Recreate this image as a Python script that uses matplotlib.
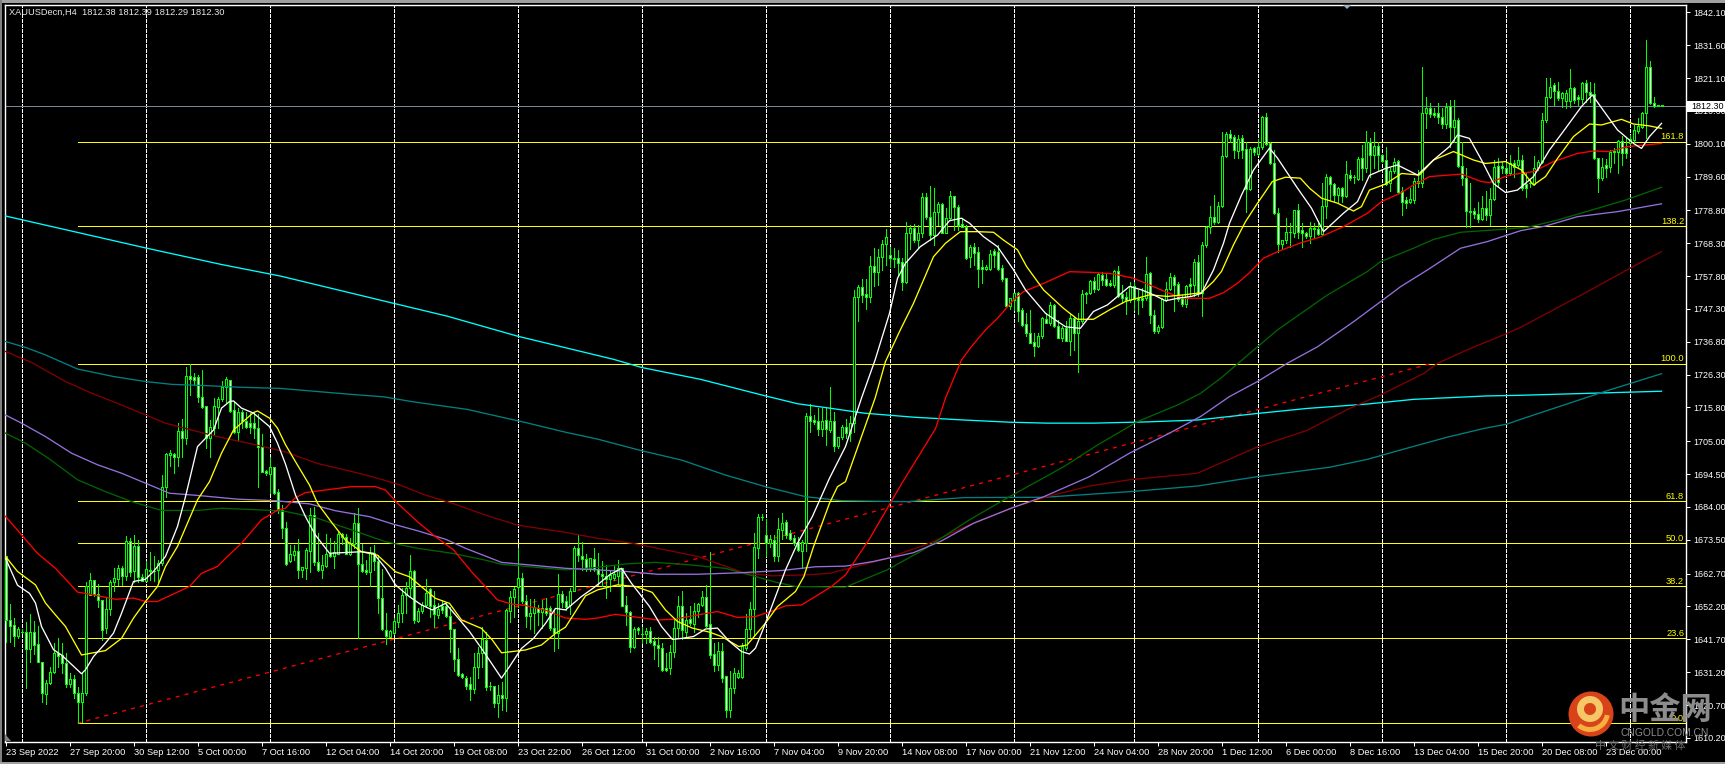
import matplotlib
matplotlib.use('Agg')
import matplotlib.pyplot as plt
from matplotlib.patches import Circle, Polygon, Rectangle, Wedge

# bars 0-414, H4 candles
opens = [
    1668.2, 1647.9, 1646.2, 1642.9, 1644.2, 1644.0, 1638.6, 1644.0, 1640.2, 1634.4,
    1624.2, 1627.7, 1631.2, 1637.3, 1636.7, 1634.0, 1627.4, 1629.0, 1624.5, 1621.8,
    1624.5, 1655.9, 1660.7, 1656.1, 1654.3, 1645.3, 1651.3, 1659.9, 1660.9, 1664.4,
    1662.0, 1673.0, 1663.4, 1671.6, 1661.6, 1660.5, 1664.0, 1663.6, 1663.9, 1666.2,
    1690.3, 1700.7, 1700.9, 1699.9, 1708.3, 1706.0, 1725.9, 1725.4, 1725.7, 1719.3,
    1716.3, 1706.2, 1709.2, 1716.1, 1718.4, 1722.3, 1724.6, 1715.0, 1708.1, 1714.5,
    1711.6, 1710.8, 1710.8, 1709.2, 1703.1, 1695.5, 1694.5, 1696.7, 1688.7, 1682.9,
    1677.2, 1666.8, 1668.7, 1670.0, 1664.0, 1664.6, 1670.0, 1681.6, 1666.3, 1663.9,
    1665.1, 1669.2, 1668.4, 1669.0, 1675.4, 1674.5, 1669.0, 1672.2, 1678.8, 1665.7,
    1663.9, 1663.1, 1669.2, 1666.8, 1654.8, 1644.7, 1642.6, 1643.6, 1647.4, 1650.0,
    1655.9, 1658.0, 1663.5, 1647.7, 1650.7, 1652.7, 1657.7, 1652.7, 1649.5, 1652.5,
    1652.5, 1649.3, 1644.9, 1635.3, 1630.5, 1629.3, 1627.3, 1625.8, 1633.0, 1637.2,
    1641.5, 1626.9, 1626.9, 1621.5, 1623.9, 1623.1, 1650.9, 1655.1, 1658.5, 1661.2,
    1654.0, 1649.3, 1650.0, 1651.8, 1650.3, 1651.8, 1651.6, 1645.2, 1643.6, 1656.2,
    1653.8, 1652.7, 1657.2, 1670.8, 1668.2, 1667.3, 1664.6, 1667.3, 1664.2, 1662.6,
    1661.8, 1661.0, 1661.2, 1661.8, 1664.6, 1652.7, 1650.3, 1639.4, 1645.2, 1643.5,
    1643.4, 1644.4, 1641.2, 1639.8, 1638.9, 1632.5, 1632.5, 1637.6, 1645.3, 1652.5,
    1644.2, 1648.2, 1646.6, 1650.6, 1652.7, 1655.2, 1646.5, 1637.0, 1633.5, 1638.0,
    1630.0, 1619.2, 1626.1, 1629.8, 1629.8, 1638.9, 1644.9, 1651.3, 1671.0, 1680.9,
    1675.1, 1672.4, 1673.3, 1668.2, 1676.7, 1679.1, 1675.6, 1674.0, 1672.9, 1670.0,
    1672.4, 1713.1, 1711.8, 1711.5, 1708.9, 1711.8, 1708.6, 1711.6, 1703.5, 1706.3,
    1709.5, 1707.8, 1711.0, 1751.0, 1754.2, 1752.1, 1751.2, 1761.0, 1759.2, 1763.8,
    1768.0, 1764.4, 1763.7, 1763.5, 1762.2, 1756.0, 1771.5, 1773.1, 1769.3, 1771.5,
    1783.0, 1776.8, 1770.9, 1778.4, 1780.7, 1771.7, 1776.5, 1783.4, 1779.8, 1774.4,
    1773.6, 1764.0, 1767.0, 1765.6, 1760.6, 1760.0, 1760.0, 1765.8, 1765.6, 1760.3,
    1757.1, 1748.3, 1750.2, 1752.3, 1747.0, 1742.5, 1739.7, 1736.6, 1735.3, 1738.5,
    1744.0, 1742.9, 1748.6, 1741.9, 1738.1, 1741.3, 1737.2, 1744.3, 1739.5, 1743.6,
    1752.2, 1752.3, 1756.2, 1753.6, 1758.2, 1756.8, 1755.7, 1755.0, 1759.4, 1752.0,
    1751.2, 1750.2, 1754.6, 1750.7, 1750.7, 1750.7, 1758.7, 1745.4, 1740.1, 1741.5,
    1750.2, 1753.7, 1757.4, 1755.3, 1750.4, 1748.8, 1755.2, 1755.0, 1762.2, 1752.3,
    1767.8, 1773.4, 1776.6, 1775.0, 1780.3, 1796.3, 1803.2, 1802.4, 1797.9, 1801.9,
    1798.3, 1785.7, 1798.7, 1796.8, 1799.0, 1808.6, 1800.3, 1793.9, 1777.9, 1768.0,
    1769.2, 1771.8, 1771.5, 1778.9, 1772.6, 1771.5, 1770.6, 1773.1, 1772.8, 1771.3,
    1780.3, 1789.6, 1787.2, 1783.7, 1785.9, 1783.4, 1790.0, 1789.6, 1788.9, 1795.5,
    1792.5, 1800.8, 1796.5, 1799.5, 1796.5, 1794.9, 1787.4, 1791.4, 1794.6, 1785.1,
    1782.1, 1781.6, 1782.1, 1788.2, 1787.4, 1809.8, 1811.6, 1809.8, 1809.8, 1808.8,
    1806.4, 1812.2, 1805.3, 1807.7, 1793.0, 1789.0, 1778.7, 1778.7, 1777.8, 1775.9,
    1779.5, 1777.3, 1782.3, 1793.1, 1793.1, 1792.5, 1790.6, 1793.8, 1793.3, 1794.9,
    1787.2, 1787.4, 1787.1, 1792.2, 1794.2, 1807.7, 1815.1, 1818.9, 1817.1, 1814.6,
    1813.6, 1813.6, 1817.8, 1814.9, 1814.5, 1819.4, 1816.7, 1815.9, 1795.4, 1789.0,
    1793.3, 1792.6, 1797.9, 1797.4, 1801.0, 1798.6, 1800.2, 1801.3, 1804.2, 1805.6,
    1809.8, 1824.7, 1813.0, 1812.4, 1812.38,
]
highs = [
    1668.2, 1653.0, 1648.4, 1645.8, 1644.9, 1647.4, 1649.7, 1647.6, 1646.0, 1634.4,
    1628.7, 1633.0, 1640.5, 1642.0, 1640.5, 1637.3, 1630.9, 1630.3, 1626.6, 1631.4,
    1659.9, 1662.8, 1660.7, 1659.3, 1654.3, 1654.9, 1660.7, 1664.6, 1665.5, 1665.2,
    1674.6, 1674.0, 1675.0, 1673.5, 1662.5, 1666.6, 1669.6, 1668.2, 1667.0, 1694.3,
    1701.4, 1702.3, 1701.4, 1710.7, 1712.2, 1728.9, 1729.7, 1726.7, 1726.2, 1727.8,
    1716.3, 1711.8, 1718.8, 1719.0, 1724.4, 1725.7, 1724.6, 1717.7, 1715.6, 1715.0,
    1714.5, 1714.0, 1714.5, 1713.7, 1707.4, 1695.8, 1700.1, 1696.7, 1689.8, 1684.7,
    1679.3, 1671.9, 1671.9, 1673.8, 1664.9, 1670.8, 1683.6, 1684.1, 1675.6, 1668.7,
    1675.4, 1674.0, 1673.1, 1676.4, 1675.6, 1675.3, 1674.0, 1682.2, 1683.6, 1672.2,
    1667.0, 1671.3, 1671.9, 1668.7, 1664.2, 1650.0, 1644.8, 1648.4, 1652.7, 1658.0,
    1660.1, 1668.7, 1663.9, 1651.6, 1653.7, 1660.9, 1658.0, 1657.0, 1653.2, 1654.3,
    1653.7, 1652.1, 1644.9, 1638.8, 1630.9, 1630.0, 1629.8, 1637.2, 1639.4, 1645.8,
    1644.2, 1628.2, 1626.9, 1627.1, 1628.2, 1651.3, 1657.3, 1658.5, 1670.8, 1663.0,
    1655.9, 1654.5, 1654.5, 1652.7, 1654.3, 1654.8, 1652.3, 1651.0, 1662.6, 1657.3,
    1655.4, 1658.0, 1671.4, 1675.1, 1672.7, 1669.0, 1667.6, 1670.8, 1669.2, 1666.6,
    1665.5, 1663.4, 1665.5, 1667.0, 1664.6, 1655.4, 1650.6, 1645.8, 1645.8, 1645.8,
    1645.3, 1645.6, 1642.6, 1642.6, 1640.5, 1637.3, 1639.9, 1648.5, 1655.4, 1657.2,
    1650.0, 1652.2, 1653.2, 1653.2, 1657.3, 1659.1, 1669.5, 1640.5, 1641.0, 1640.5,
    1630.0, 1631.7, 1632.5, 1632.0, 1640.5, 1649.7, 1653.5, 1675.6, 1681.7, 1681.7,
    1680.2, 1675.1, 1675.1, 1680.4, 1682.0, 1679.9, 1676.5, 1675.1, 1674.5, 1673.5,
    1714.2, 1716.9, 1713.4, 1715.5, 1715.5, 1715.9, 1722.3, 1714.3, 1706.5, 1710.2,
    1712.0, 1713.0, 1753.4, 1755.0, 1756.8, 1757.0, 1764.2, 1766.7, 1766.4, 1769.3,
    1772.9, 1767.2, 1766.7, 1766.2, 1763.5, 1775.2, 1774.1, 1774.5, 1774.1, 1784.3,
    1784.3, 1786.6, 1785.8, 1781.6, 1781.3, 1779.5, 1785.1, 1783.4, 1780.5, 1776.3,
    1774.1, 1767.7, 1768.3, 1767.2, 1763.0, 1761.4, 1766.2, 1766.4, 1767.7, 1761.4,
    1757.1, 1750.9, 1752.5, 1752.8, 1747.7, 1745.9, 1747.0, 1739.7, 1739.7, 1744.8,
    1745.9, 1749.6, 1748.9, 1743.8, 1741.7, 1743.3, 1745.9, 1744.8, 1745.9, 1753.2,
    1752.8, 1756.6, 1757.6, 1758.9, 1759.2, 1758.7, 1756.6, 1759.8, 1761.0, 1755.0,
    1752.8, 1756.0, 1756.0, 1753.4, 1753.9, 1763.8, 1759.2, 1747.0, 1742.2, 1750.7,
    1756.0, 1758.9, 1758.2, 1756.0, 1751.8, 1755.0, 1757.1, 1763.2, 1764.6, 1768.8,
    1773.8, 1780.2, 1783.7, 1781.6, 1804.0, 1803.7, 1804.5, 1802.9, 1802.9, 1802.9,
    1800.8, 1799.2, 1799.2, 1801.5, 1809.1, 1809.8, 1800.8, 1798.1, 1779.5, 1769.4,
    1776.3, 1774.9, 1778.9, 1780.9, 1774.9, 1772.0, 1775.2, 1774.7, 1774.7, 1787.7,
    1790.5, 1789.8, 1787.5, 1786.2, 1786.4, 1794.7, 1791.7, 1790.1, 1795.8, 1799.7,
    1804.3, 1801.9, 1803.9, 1800.8, 1796.8, 1799.2, 1792.2, 1795.4, 1794.9, 1786.4,
    1783.2, 1785.9, 1789.0, 1791.7, 1824.7, 1815.1, 1813.0, 1811.4, 1813.0, 1811.4,
    1813.0, 1814.0, 1814.0, 1808.2, 1800.8, 1792.2, 1787.4, 1779.5, 1781.6, 1783.4,
    1785.0, 1785.9, 1794.9, 1795.4, 1794.4, 1793.8, 1796.5, 1794.9, 1799.2, 1796.5,
    1791.2, 1788.5, 1796.3, 1794.9, 1809.8, 1821.0, 1821.0, 1819.4, 1819.9, 1816.7,
    1817.3, 1824.0, 1818.3, 1815.7, 1819.9, 1820.4, 1819.7, 1819.4, 1795.6, 1795.4,
    1795.1, 1798.1, 1798.6, 1801.3, 1802.6, 1801.8, 1802.9, 1806.1, 1808.2, 1810.3,
    1833.3, 1826.5, 1814.9, 1812.5, 1812.39,
]
lows = [
    1641.0, 1641.0, 1639.6, 1642.0, 1643.7, 1626.3, 1634.6, 1637.0, 1634.3, 1621.8,
    1621.0, 1627.4, 1630.9, 1633.0, 1630.9, 1626.6, 1626.6, 1623.0, 1614.9, 1615.4,
    1623.9, 1655.9, 1655.6, 1651.9, 1641.6, 1643.7, 1649.5, 1657.0, 1659.1, 1659.1,
    1660.7, 1661.8, 1660.0, 1659.9, 1660.2, 1660.2, 1660.7, 1660.5, 1659.4, 1665.5,
    1687.1, 1697.1, 1695.0, 1697.1, 1700.1, 1704.0, 1719.8, 1723.0, 1717.7, 1715.6,
    1702.8, 1700.1, 1707.0, 1709.2, 1717.9, 1717.7, 1714.5, 1707.6, 1705.4, 1709.2,
    1709.2, 1707.6, 1706.2, 1690.5, 1695.3, 1694.3, 1688.4, 1688.2, 1682.0, 1674.0,
    1665.5, 1666.5, 1667.0, 1661.2, 1661.5, 1660.9, 1663.3, 1665.5, 1663.5, 1661.2,
    1664.9, 1668.1, 1664.6, 1668.9, 1672.2, 1668.9, 1668.7, 1670.8, 1642.0, 1663.3,
    1662.6, 1658.8, 1663.9, 1650.0, 1644.7, 1640.1, 1642.6, 1643.4, 1645.8, 1647.4,
    1650.0, 1655.3, 1647.0, 1647.4, 1650.0, 1652.1, 1649.0, 1645.8, 1648.4, 1650.0,
    1649.0, 1637.5, 1631.7, 1630.0, 1629.3, 1625.7, 1622.3, 1624.5, 1629.3, 1633.0,
    1625.5, 1625.5, 1620.2, 1617.0, 1619.1, 1618.9, 1647.4, 1649.0, 1652.1, 1653.2,
    1645.8, 1644.9, 1643.8, 1646.3, 1645.2, 1649.5, 1644.7, 1638.1, 1638.8, 1652.1,
    1651.1, 1649.7, 1657.0, 1666.6, 1663.9, 1663.4, 1663.4, 1663.4, 1659.1, 1658.6,
    1654.8, 1657.0, 1660.7, 1659.4, 1652.4, 1646.3, 1637.8, 1638.9, 1643.4, 1640.5,
    1640.5, 1640.5, 1635.3, 1633.2, 1631.6, 1631.6, 1630.7, 1636.2, 1642.6, 1641.7,
    1642.6, 1646.3, 1644.2, 1649.0, 1652.2, 1645.8, 1635.7, 1631.7, 1632.0, 1628.2,
    1616.8, 1617.0, 1624.7, 1629.3, 1629.3, 1638.3, 1642.6, 1643.1, 1667.6, 1679.9,
    1668.4, 1671.3, 1666.8, 1666.8, 1673.7, 1674.0, 1673.5, 1671.7, 1669.8, 1664.4,
    1669.8, 1708.1, 1710.4, 1707.0, 1706.7, 1703.8, 1708.1, 1702.0, 1703.0, 1705.6,
    1706.0, 1705.0, 1708.0, 1743.6, 1749.6, 1747.2, 1749.6, 1754.6, 1755.0, 1759.8,
    1761.4, 1760.8, 1760.8, 1757.8, 1753.2, 1755.7, 1766.4, 1768.8, 1766.7, 1770.2,
    1776.0, 1769.3, 1767.7, 1774.1, 1771.5, 1771.7, 1776.0, 1772.5, 1772.5, 1773.4,
    1763.2, 1760.8, 1761.4, 1754.4, 1755.5, 1759.8, 1759.8, 1760.8, 1759.8, 1756.3,
    1748.0, 1747.2, 1747.0, 1743.6, 1741.7, 1738.5, 1736.3, 1732.4, 1735.1, 1737.9,
    1742.7, 1742.2, 1741.4, 1737.9, 1736.9, 1736.9, 1732.6, 1734.2, 1727.0, 1742.7,
    1749.1, 1752.0, 1752.8, 1753.4, 1755.0, 1754.6, 1754.6, 1754.4, 1751.2, 1749.3,
    1745.6, 1749.6, 1747.0, 1745.7, 1748.0, 1750.2, 1742.9, 1739.6, 1739.6, 1741.1,
    1749.7, 1753.4, 1746.8, 1749.7, 1748.1, 1747.9, 1751.3, 1751.3, 1751.3, 1744.9,
    1767.2, 1771.7, 1774.5, 1774.7, 1780.0, 1796.0, 1800.8, 1795.5, 1795.5, 1795.5,
    1778.4, 1785.3, 1796.5, 1796.5, 1798.3, 1799.7, 1793.6, 1777.7, 1765.6, 1766.4,
    1768.3, 1767.2, 1770.4, 1769.9, 1767.2, 1769.9, 1768.5, 1769.9, 1771.0, 1771.0,
    1776.3, 1782.1, 1781.9, 1781.4, 1781.4, 1783.2, 1788.5, 1787.5, 1788.5, 1788.5,
    1791.2, 1789.6, 1792.2, 1791.7, 1794.4, 1786.9, 1785.0, 1790.6, 1784.5, 1777.3,
    1779.5, 1781.0, 1781.0, 1786.4, 1786.4, 1805.0, 1808.8, 1808.8, 1806.6, 1805.0,
    1805.0, 1799.2, 1800.8, 1792.8, 1786.9, 1773.6, 1773.6, 1776.3, 1775.2, 1775.7,
    1775.7, 1774.1, 1782.1, 1786.4, 1790.6, 1790.1, 1790.1, 1789.6, 1792.8, 1785.3,
    1783.2, 1786.2, 1786.9, 1791.7, 1793.8, 1807.1, 1814.6, 1812.5, 1814.1, 1812.0,
    1811.6, 1812.0, 1813.0, 1812.5, 1813.0, 1813.5, 1813.5, 1795.1, 1784.8, 1788.5,
    1789.6, 1791.2, 1793.9, 1790.9, 1793.3, 1795.4, 1800.0, 1800.8, 1803.4, 1805.0,
    1801.8, 1812.7, 1811.7, 1812.2, 1812.29,
]
closes = [
    1647.9, 1646.1, 1642.9, 1645.0, 1644.0, 1638.6, 1644.0, 1640.0, 1634.4, 1624.5,
    1627.7, 1631.2, 1637.3, 1636.5, 1634.0, 1627.4, 1629.0, 1624.5, 1621.8, 1624.5,
    1658.6, 1660.7, 1656.1, 1654.3, 1644.8, 1651.3, 1659.9, 1661.2, 1664.4, 1662.0,
    1673.0, 1663.2, 1671.6, 1661.6, 1660.5, 1664.1, 1663.5, 1663.7, 1666.0, 1690.3,
    1701.0, 1701.2, 1699.9, 1708.3, 1706.0, 1725.9, 1724.8, 1724.6, 1719.3, 1716.1,
    1706.2, 1709.5, 1716.3, 1718.4, 1722.5, 1724.8, 1714.8, 1708.1, 1714.5, 1711.6,
    1709.7, 1709.7, 1709.2, 1703.1, 1695.3, 1694.8, 1696.7, 1688.6, 1682.9, 1677.2,
    1665.8, 1668.9, 1670.0, 1664.0, 1664.8, 1670.3, 1681.6, 1666.3, 1663.9, 1665.5,
    1669.0, 1668.3, 1669.5, 1675.4, 1674.3, 1669.0, 1672.4, 1678.8, 1665.7, 1663.7,
    1663.1, 1669.2, 1666.8, 1654.8, 1644.9, 1642.9, 1644.5, 1647.7, 1650.0, 1655.9,
    1658.0, 1663.5, 1647.9, 1650.9, 1652.7, 1656.4, 1652.5, 1649.7, 1651.4, 1651.1,
    1649.3, 1644.9, 1635.3, 1630.3, 1629.6, 1626.8, 1625.8, 1633.0, 1637.2, 1641.7,
    1626.6, 1626.8, 1621.5, 1623.9, 1623.1, 1651.1, 1655.1, 1657.8, 1661.2, 1654.0,
    1649.3, 1650.0, 1651.9, 1650.3, 1651.8, 1650.0, 1645.2, 1643.8, 1656.2, 1653.7,
    1652.0, 1657.2, 1670.8, 1668.5, 1667.3, 1664.6, 1667.6, 1664.2, 1662.6, 1661.8,
    1661.0, 1662.3, 1662.6, 1664.6, 1652.5, 1650.3, 1639.4, 1645.0, 1644.7, 1643.4,
    1644.4, 1640.8, 1639.8, 1638.9, 1631.9, 1631.9, 1637.6, 1645.3, 1652.2, 1644.7,
    1647.9, 1646.9, 1650.6, 1653.0, 1655.2, 1646.0, 1636.7, 1633.5, 1638.0, 1629.5,
    1619.2, 1626.1, 1631.1, 1631.1, 1639.7, 1644.9, 1651.3, 1671.3, 1680.7, 1680.9,
    1672.4, 1673.7, 1668.2, 1676.9, 1678.8, 1675.1, 1673.8, 1672.4, 1670.3, 1672.9,
    1713.1, 1711.6, 1711.3, 1708.9, 1711.6, 1708.8, 1711.6, 1703.5, 1706.3, 1709.5,
    1707.8, 1711.0, 1751.0, 1754.2, 1751.8, 1751.2, 1761.0, 1759.2, 1763.8, 1768.0,
    1770.2, 1763.5, 1763.3, 1762.1, 1756.0, 1771.5, 1773.3, 1769.3, 1771.5, 1783.0,
    1776.8, 1770.9, 1778.4, 1780.7, 1771.7, 1776.5, 1783.4, 1779.8, 1774.1, 1773.4,
    1763.7, 1767.2, 1765.3, 1760.2, 1760.0, 1760.8, 1764.8, 1764.5, 1760.0, 1756.9,
    1748.3, 1750.7, 1752.3, 1746.8, 1742.2, 1739.7, 1736.5, 1735.3, 1738.7, 1744.3,
    1742.9, 1748.6, 1741.7, 1738.1, 1741.1, 1737.2, 1744.3, 1739.5, 1743.6, 1752.1,
    1752.4, 1756.2, 1753.6, 1758.5, 1756.6, 1755.0, 1755.1, 1759.4, 1751.5, 1750.9,
    1750.2, 1754.6, 1750.5, 1750.0, 1750.2, 1758.5, 1745.4, 1740.1, 1741.5, 1750.4,
    1753.7, 1757.4, 1755.0, 1750.4, 1748.8, 1754.7, 1754.7, 1762.2, 1752.3, 1767.8,
    1773.4, 1776.6, 1775.0, 1780.3, 1796.3, 1803.2, 1802.0, 1798.1, 1801.5, 1798.1,
    1785.7, 1798.3, 1797.3, 1799.0, 1808.8, 1799.9, 1793.9, 1777.9, 1768.1, 1769.4,
    1771.8, 1771.9, 1778.9, 1772.0, 1771.5, 1770.6, 1773.1, 1772.8, 1771.3, 1780.3,
    1789.6, 1787.2, 1783.7, 1785.9, 1783.4, 1790.5, 1789.3, 1789.6, 1795.1, 1792.5,
    1800.8, 1796.5, 1799.5, 1796.5, 1794.6, 1787.1, 1791.4, 1794.2, 1784.8, 1781.4,
    1781.0, 1782.4, 1788.2, 1787.5, 1809.8, 1811.6, 1809.5, 1809.2, 1808.8, 1806.4,
    1811.9, 1805.3, 1807.7, 1793.1, 1789.0, 1778.7, 1778.4, 1777.6, 1775.9, 1779.5,
    1777.3, 1782.3, 1792.8, 1787.8, 1792.5, 1790.6, 1793.8, 1792.8, 1794.9, 1786.1,
    1786.1, 1787.4, 1792.2, 1794.2, 1807.7, 1815.1, 1818.3, 1817.1, 1814.6, 1816.2,
    1816.2, 1817.8, 1814.0, 1814.3, 1819.4, 1816.7, 1815.7, 1795.4, 1789.0, 1792.8,
    1792.5, 1797.6, 1797.4, 1801.0, 1797.0, 1797.0, 1801.5, 1804.5, 1805.8, 1809.8,
    1824.5, 1813.0, 1812.3, 1812.2, 1812.30,
]

# moving averages, read at the bends only
white_bars = [0, 3, 6, 7.5, 9, 12, 14, 19, 20, 22, 25, 27, 29, 32, 35, 37, 40, 43, 45, 48, 52, 54, 56, 57, 59, 62, 66, 68, 70,
              72.5, 75, 77.5, 81, 89, 92, 95, 97.5, 101, 104, 106.7, 110, 112.5, 116, 119, 124, 126, 129, 132, 135, 137.5, 140,
              144, 147.5, 151, 154, 156.5, 161, 164, 166.7, 169, 172, 175, 178, 181, 184, 186, 187.5, 190, 192.5, 195, 198,
              201.7, 206, 210, 214, 217.4, 221, 223, 225, 228.7, 233, 236, 239, 241, 244.5, 248, 252, 255, 260, 265, 268.7,
              272, 275.5, 281, 284, 287, 290, 293, 296.5, 299, 302, 304.5, 306, 309, 312, 316, 318, 320.5, 323, 326.5, 329.5,
              334.5, 338, 341, 345, 348, 353, 357, 361, 363, 366, 369, 372, 375, 378, 382, 386, 390, 394, 396.7, 400, 403, 407,
              409, 411, 414]
white_vals = [1667.6, 1659, 1656.4, 1653.3, 1645.8, 1638.4, 1636.7, 1630.7, 1632, 1636.2, 1640.5, 1643.7, 1650, 1660.2, 1660.9,
              1663.4, 1668.2, 1677.8, 1687.3, 1703.3, 1708.6, 1715.6, 1717.7, 1717.9, 1715.6, 1714, 1709.7, 1704.4, 1697.7,
              1687.8, 1680.9, 1675, 1669.2, 1669.7, 1669.2, 1664.4, 1659.1, 1655.3, 1652.7, 1651.1, 1653.2, 1649.5, 1644.2,
              1638.8, 1629.3, 1633, 1638.8, 1642, 1646.8, 1651.6, 1651.1, 1655.4, 1658.6, 1662.3, 1664.4, 1659.6, 1652.2,
              1645.8, 1641.7, 1642, 1642.6, 1645, 1645.3, 1641, 1637.8, 1637, 1638.9, 1646.9, 1655.4, 1663.9, 1672.4, 1680.9,
              1693.2, 1703.3, 1718.8, 1731, 1745.9, 1757.1, 1761.9, 1767.2, 1770.9, 1775.5, 1776.3, 1774.7, 1770.4, 1767.2,
              1759.8, 1753.4, 1745.9, 1741.6, 1741.1, 1746.5, 1748.6, 1754.5, 1753.4, 1751.8, 1749.9, 1750.7, 1751.3, 1752.3,
              1759.8, 1768.3, 1774.7, 1783.7, 1791.7, 1798.7, 1795.5, 1790.7, 1785.9, 1779.5, 1772, 1777.9, 1781.6, 1790,
              1792.2, 1793.3, 1790.1, 1794.9, 1799.2, 1802.9, 1801.8, 1794.9, 1787.4, 1784.5, 1785.3, 1789.6, 1798.1, 1805,
              1812, 1815.7, 1809.8, 1804.5, 1800.2, 1798.6, 1802.4, 1806.6]

yellow_bars = [0, 3, 7.5, 10, 12.5, 15, 19, 21.5, 25, 29, 32, 35, 38, 40, 43, 48, 51, 54, 57, 62, 63, 66, 68, 70, 73, 76, 78,
               81.7, 85, 89, 93, 97.5, 101, 104, 107.5, 111, 114, 119, 121.7, 124, 130, 134, 137.5, 140, 142.5, 145, 148, 153,
               157.5, 161.7, 165, 168, 171.7, 176, 179, 183.3, 185.4, 190, 193, 197.5, 199.6, 202, 206, 208, 210, 217.4, 220,
               223.7, 227, 232, 235, 238.7, 243, 247, 249.5, 253, 255.3, 259.5, 264.5, 268, 272, 276, 280, 286, 290.5, 294.5,
               299, 302, 304, 307, 310, 313, 316.7, 320, 323.7, 326, 329, 333, 337, 339, 341, 345, 349, 353.5, 357, 362, 367,
               370, 375, 379, 382, 385, 388, 392, 396, 399, 404, 407, 411, 414]
yellow_vals = [1668.2, 1663.4, 1659.1, 1653.3, 1649.5, 1645.8, 1636.7, 1637.3, 1638.1, 1642, 1648.5, 1653.8, 1658.6, 1665, 1671.4,
               1686.3, 1692.1, 1701.2, 1708.6, 1714.2, 1714.7, 1712.4, 1709.2, 1703.9, 1697.4, 1691, 1685.2, 1678.8, 1673.4,
               1669.7, 1668.6, 1663.3, 1661.7, 1658.5, 1654.8, 1653.2, 1647.9, 1645.2, 1641.5, 1637.4, 1638.3, 1639.9, 1643.6,
               1645.6, 1650.6, 1655.6, 1657.5, 1659.1, 1658.6, 1656.7, 1651.1, 1647.4, 1645.3, 1644, 1642.6, 1639.4, 1639.9,
               1646.9, 1652.2, 1657, 1661.8, 1671.3, 1685.2, 1690.5, 1692.1, 1718.8, 1730.5, 1740.6, 1749.1, 1764, 1768.3, 1772,
               1772, 1771.8, 1769.3, 1766.2, 1760.8, 1753.4, 1747.5, 1744, 1744, 1747, 1749.7, 1751.8, 1751.3, 1751.8, 1752.5,
               1756.1, 1759.3, 1767.8, 1775.2, 1781.1, 1788, 1789.4, 1789.1, 1785.9, 1782.7, 1781.1, 1778.6, 1780, 1785.3, 1787.2,
               1790.6, 1790.1, 1794.9, 1797.6, 1794.9, 1793.8, 1794.4, 1791.7, 1786.9, 1789.6, 1795.4, 1802.4, 1806.4, 1806.1,
               1807.9, 1806.4, 1805.8, 1805]

red_bars = [0, 4, 8, 12.5, 18, 22, 27.5, 32, 35, 38, 41.5, 46, 49, 53, 55, 59, 64, 68, 70, 72.5, 75, 81, 86.5, 92.5, 95, 98, 103,
            107.5, 112, 116.5, 120, 123, 126.5, 130, 135, 140, 145, 148, 152.5, 156.5, 163, 167, 173, 178, 183, 187.5, 192, 195,
            199, 202.5, 206.5, 210, 216, 224, 232.5, 235, 239, 241.5, 245, 248, 252, 254.5, 258.7, 266, 271.5, 277, 282, 286,
            290.5, 294.5, 301, 304.5, 308, 311, 314.5, 318, 323.5, 328.5, 334.5, 340.5, 344, 348.7, 352, 356, 364, 369, 371, 376,
            382, 387, 393, 397, 401, 405.5, 410, 414]
red_vals = [1681, 1675.1, 1669.2, 1664.4, 1656.8, 1655.9, 1654.5, 1654.9, 1653.8, 1653.8, 1655.9, 1658.6, 1662.8, 1665, 1667.6,
            1672.4, 1679.9, 1683, 1683.6, 1687, 1688.6, 1689.6, 1690.5, 1690.5, 1689.4, 1685.2, 1679.3, 1674.5, 1670.3, 1663.3,
            1658.5, 1654.3, 1653, 1652.5, 1651, 1648.5, 1648.1, 1648.5, 1649.7, 1649, 1647.9, 1648.1, 1649.5, 1650.6, 1648.7, 1649,
            1650.9, 1652.4, 1652.7, 1655.4, 1658.6, 1662.3, 1673.8, 1691.4, 1709, 1718.8, 1731, 1735.3, 1740.6, 1744.3, 1750.2,
            1752.8, 1755, 1759.2, 1759, 1758.5, 1757.1, 1755, 1752.5, 1750.7, 1750.7, 1752.5, 1755.5, 1758.9, 1763.5, 1765.6,
            1768.3, 1770.2, 1773.6, 1777.9, 1781.6, 1784.3, 1786.9, 1789.6, 1790.4, 1788, 1787.7, 1790.1, 1791.2, 1794.4, 1797,
            1797.8, 1797.6, 1799.2, 1799.7, 1800.2]

cyan_bars = [0, 35, 54, 68.75, 97, 110.4, 128, 152, 159, 173.75, 190, 198, 206, 214.6, 227, 239.6, 251, 260.4, 272, 285.4, 298,
             313, 325.4, 340.4, 352, 370.4, 378.75, 414]
cyan_vals = [1777, 1766.8, 1761.5, 1757.8, 1749.1, 1745, 1738.6, 1731.2, 1728.6, 1724.8, 1719.5, 1717, 1715.6, 1714, 1712.7,
             1711.8, 1711.1, 1710.8, 1710.8, 1711.2, 1711.8, 1713.9, 1715.5, 1716.9, 1718.4, 1719.5, 1719.7, 1721]

teal_bars = [0, 5, 10, 18, 27, 35, 41.5, 50, 58, 68.75, 85.4, 94.6, 102, 115.4, 130, 140, 148, 159, 169, 180, 190, 200, 209, 225.4,
             239.6, 259.6, 281, 298, 313, 331, 340.4, 350.4, 360.4, 369.6, 375.4, 378.75, 400, 414]
teal_vals = [1736.9, 1735, 1732.6, 1728.1, 1725.7, 1724.1, 1723.2, 1722.8, 1722.3, 1721.9, 1720.1, 1719.2, 1717.6, 1715.2, 1711,
             1707.9, 1705.7, 1702, 1699, 1694.2, 1690.5, 1687.3, 1686, 1685.7, 1687, 1687.1, 1688.9, 1690.7, 1693.7, 1696.7,
             1699.2, 1702.8, 1706.3, 1709.1, 1710.5, 1712, 1721, 1726.6]

darkred_bars = [0, 6.5, 15, 21.5, 29, 36, 40, 46.5, 54, 62.5, 70, 78, 86.7, 93, 98, 105, 111.7, 120, 128, 140, 148, 156.7, 165, 173,
                179, 185, 191.7, 200, 206, 211, 220.4, 231, 241, 252, 260.4, 271, 281, 298, 306, 313, 325.4, 336, 343.75, 354.6,
                358, 365.4, 375.4, 378.75, 395, 410, 414]
darkred_vals = [1733.7, 1730.2, 1724.1, 1720.4, 1716.6, 1712.9, 1710.8, 1708.6, 1706.2, 1703.9, 1701.6, 1697.9, 1695.3, 1693.2,
                1691.3, 1687.8, 1685.2, 1681.4, 1678.2, 1675.9, 1674, 1672.4, 1670.3, 1668.2, 1665.5, 1662.8, 1662, 1662.3, 1662.8,
                1664.4, 1667.6, 1672.4, 1678.3, 1683.9, 1687.3, 1690.7, 1692.7, 1694.8, 1699.3, 1703.2, 1708.5, 1715.5, 1719.8,
                1726.7, 1729.9, 1734.2, 1739.5, 1741.4, 1752.5, 1763, 1765.6]

purple_bars = [0, 4, 10, 16.5, 23, 29, 35, 41, 48, 58, 67.5, 76, 82.5, 91, 96.7, 103, 110, 115, 124, 132.5, 140, 148, 155, 163, 173,
               184, 194, 202.5, 210, 217, 227, 233.75, 242, 252, 259.6, 271, 281, 291, 298.75, 306, 313, 320.4, 328, 337, 343.75,
               348.75, 355.4, 363.75, 370.4, 378.75, 385, 393, 403, 414]
purple_vals = [1713.4, 1710.8, 1706.5, 1701.2, 1697.5, 1694.8, 1691.6, 1688.4, 1687.7, 1686.5, 1686, 1685, 1682.8, 1680.9, 1678.6,
               1676.4, 1673.7, 1670.8, 1666.3, 1665.3, 1664.4, 1663.9, 1663.4, 1662.5, 1662.5, 1663, 1663.7, 1664.9, 1665.1, 1666.6,
               1669.4, 1673, 1678.8, 1683.9, 1687.3, 1693.7, 1701.2, 1707.6, 1712.9, 1719.3, 1724.1, 1729.9, 1735.2, 1743.2, 1749.6,
               1754.4, 1759.7, 1766.7, 1768.8, 1772.3, 1773.8, 1776.8, 1778.4, 1780.9]

darkgreen_bars = [0, 5, 10.7, 18, 25, 31.6, 39, 48, 54, 65, 70, 78, 86.7, 95, 103, 111.7, 120, 124, 140, 148, 155, 162.5, 171, 180, 186,
                  192.5, 197.5, 210, 220.4, 228.75, 234.6, 241, 251, 264.6, 273, 283, 293, 298.75, 303.75, 313, 318, 330.4, 340.4,
                  343.75, 352, 357, 363.75, 373.75, 380.5, 388, 396, 405, 414]
darkgreen_vals = [1707.6, 1704.4, 1699.6, 1692.7, 1688.9, 1685.7, 1682.9, 1682.9, 1683.6, 1683, 1682.6, 1680.4, 1676.6, 1672.9, 1670.8,
                  1669.2, 1667, 1665.7, 1663.9, 1664.7, 1665.8, 1666.3, 1665.5, 1664.4, 1662.3, 1660, 1658.6, 1658.4, 1663.9, 1669.8,
                  1674.6, 1679.9, 1687.3, 1696.9, 1703.8, 1711.3, 1716.6, 1720.3, 1725.1, 1735.2, 1740.6, 1751.7, 1759.2, 1762.4, 1766.7,
                  1769.5, 1771.8, 1772.7, 1773.4, 1775.7, 1778.7, 1782.1, 1786.2]

fib_levels = [1800.7, 1773.7, 1729.7, 1685.8, 1672.4, 1658.6, 1642.0, 1614.9]
fib_labels = ['161.8', '138.2', '100.0', '61.8', '50.0', '38.2', '23.6', '0.0']
fib_start_bar = 18
trend_bars = [18, 356]
trend_vals = [1614.9, 1729.7]

current_price = 1812.30
grid_bars = [4, 35, 66, 97, 128, 159, 190, 221, 252, 282, 313, 344, 375, 406]
price_ticks = [1842.10, 1831.60, 1821.10, 1810.60, 1800.10, 1789.60, 1778.80, 1768.30, 1757.80, 1747.30, 1736.80, 1726.30,
               1715.80, 1705.00, 1694.50, 1684.00, 1673.50, 1662.70, 1652.20, 1641.70, 1631.20, 1620.70, 1610.20]
date_labels = ['23 Sep 2022', '27 Sep 20:00', '30 Sep 12:00', '5 Oct 00:00', '7 Oct 16:00', '12 Oct 04:00', '14 Oct 20:00',
               '19 Oct 08:00', '23 Oct 22:00', '26 Oct 12:00', '31 Oct 00:00', '2 Nov 16:00', '7 Nov 04:00', '9 Nov 20:00',
               '14 Nov 08:00', '17 Nov 00:00', '21 Nov 12:00', '24 Nov 04:00', '28 Nov 20:00', '1 Dec 12:00', '6 Dec 00:00',
               '8 Dec 16:00', '13 Dec 04:00', '15 Dec 20:00', '20 Dec 08:00', '23 Dec 00:00']

LW = 0.72  # one pixel at dpi 100
FONT = 'Liberation Sans'
W, H = 1725, 764

plt.rcParams['font.family'] = FONT
fig = plt.figure(figsize=(W / 100, H / 100), dpi=100, facecolor='black')
ax = fig.add_axes([4.5 / W, 1 - 741.5 / H, 1681 / W, 737 / H], facecolor='black')
ax.set_xlim(-0.25, 420)
ax.set_ylim(1609.05, 1844.6)

for s in ax.spines.values():
    s.set_color('white')
    s.set_linewidth(1.0)

ax.yaxis.tick_right()
ax.set_yticks(price_ticks)
ax.set_yticklabels(['%.2f' % p for p in price_ticks])
date_bars = [16 * k for k in range(len(date_labels))]
ax.set_xticks(date_bars)
ax.set_xticklabels(date_labels, ha='left')
ax.tick_params(axis='y', colors='white', length=3, width=LW, pad=2.8, labelsize=6.5)
ax.tick_params(axis='x', colors='white', length=3, width=LW, pad=1.5, labelsize=6.7)

ax.vlines(grid_bars, 1609.05, 1844.6, colors='white', linewidth=LW, linestyles=(0, (3, 2)), zorder=1, antialiased=False)
ax.hlines(fib_levels, fib_start_bar, 420, colors='#FFFF00', linewidth=LW, zorder=2, antialiased=False)
ax.axhline(current_price, color='#778899', linewidth=LW, zorder=2, antialiased=False)
ax.plot(trend_bars, trend_vals, color='#FF0000', linewidth=0.95, linestyle=(0, (3, 4)), zorder=2)

for lev, lab in zip(fib_levels, fib_labels):
    ax.annotate(lab, (420, lev), xytext=(-1, 0.5), textcoords='offset points', ha='right', va='bottom',
                color='#FFFF00', fontsize=6.7, zorder=3)

bars = list(range(len(closes)))
body_bottom = [min(o, c) for o, c in zip(opens, closes)]
body_height = [abs(o - c) for o, c in zip(opens, closes)]
body_color = ['white' if c < o else 'black' for o, c in zip(opens, closes)]
ax.vlines(bars, lows, highs, colors='#00FF00', linewidth=LW, zorder=4, antialiased=False)
ax.bar(bars, body_height, bottom=body_bottom, width=0.5, color=body_color, edgecolor='#00FF00', linewidth=LW,
       zorder=5, antialiased=False)

# long period averages first, fast ones on top; aliased lines came out too heavy
for xs, ys, col in [(cyan_bars, cyan_vals, '#00FFFF'), (teal_bars, teal_vals, '#008080'),
                    (darkred_bars, darkred_vals, '#800000'), (darkgreen_bars, darkgreen_vals, '#006400'),
                    (purple_bars, purple_vals, '#9370DB'), (red_bars, red_vals, '#FF0000'),
                    (yellow_bars, yellow_vals, '#FFFF00'), (white_bars, white_vals, '#FFFFFF')]:
    ax.plot(xs, ys, color=col, linewidth=0.95, zorder=6)

# window furniture and watermark in pixel coordinates
top = fig.add_axes([0, 0, 1, 1], facecolor='none')
top.set_xlim(0, W)
top.set_ylim(H, 0)
top.axis('off')

top.add_patch(Rectangle((0, 0), W, 2.5, color='#A0A0A0', lw=0))
top.add_patch(Rectangle((0, 0), 2, H, color='#808080', lw=0))
top.add_patch(Rectangle((0, 762), W, 2, color='#A0A0A0', lw=0))
top.add_patch(Polygon([(5, 734), (5, 741), (11, 741)], color='#808080', lw=0))
top.add_patch(Polygon([(1343, 5), (1351, 5), (1347, 9)], color='#A0B0C0', lw=0))

top.text(9, 12.5, 'XAUUSDecn,H4  1812.38 1812.39 1812.29 1812.30', color='#E8E8E8', fontsize=6.7, va='center')

top.add_patch(Rectangle((1686, 101), 39, 11, color='white', lw=0))
top.text(1691.5, 106.5, '%.2f' % current_price, color='black', fontsize=6.5, va='center')

top.add_patch(Circle((1591, 714), 22.5, color='#D8431A', lw=0, zorder=5))
top.add_patch(Wedge((1590, 709), 13, 0, 360, width=7, color='#F5C766', lw=0, zorder=6))
top.add_patch(Wedge((1590, 712), 20, 10, 130, width=5, color='#F5B041', lw=0, zorder=6))
top.add_patch(Circle((1590, 709), 2.5, color='#D8431A', lw=0, zorder=7))
top.text(1665, 710, '中金网', family=['Noto Sans CJK SC', 'DejaVu Sans'], fontweight='bold', fontsize=22.5,
         color='#8C8C8C', ha='center', va='center', zorder=7)
top.text(1665, 732.5, 'CNGOLD.COM.CN', color='#8C8C8C', fontsize=7.4, ha='center', va='center', zorder=7)
top.text(1640, 746, '中 文 财 经 新 媒 体', family=['Noto Sans CJK SC', 'DejaVu Sans'], color='#6E6E6E', fontsize=7.8,
         ha='center', va='center', zorder=7)

fig.savefig('out.png', dpi=100, facecolor='black')
